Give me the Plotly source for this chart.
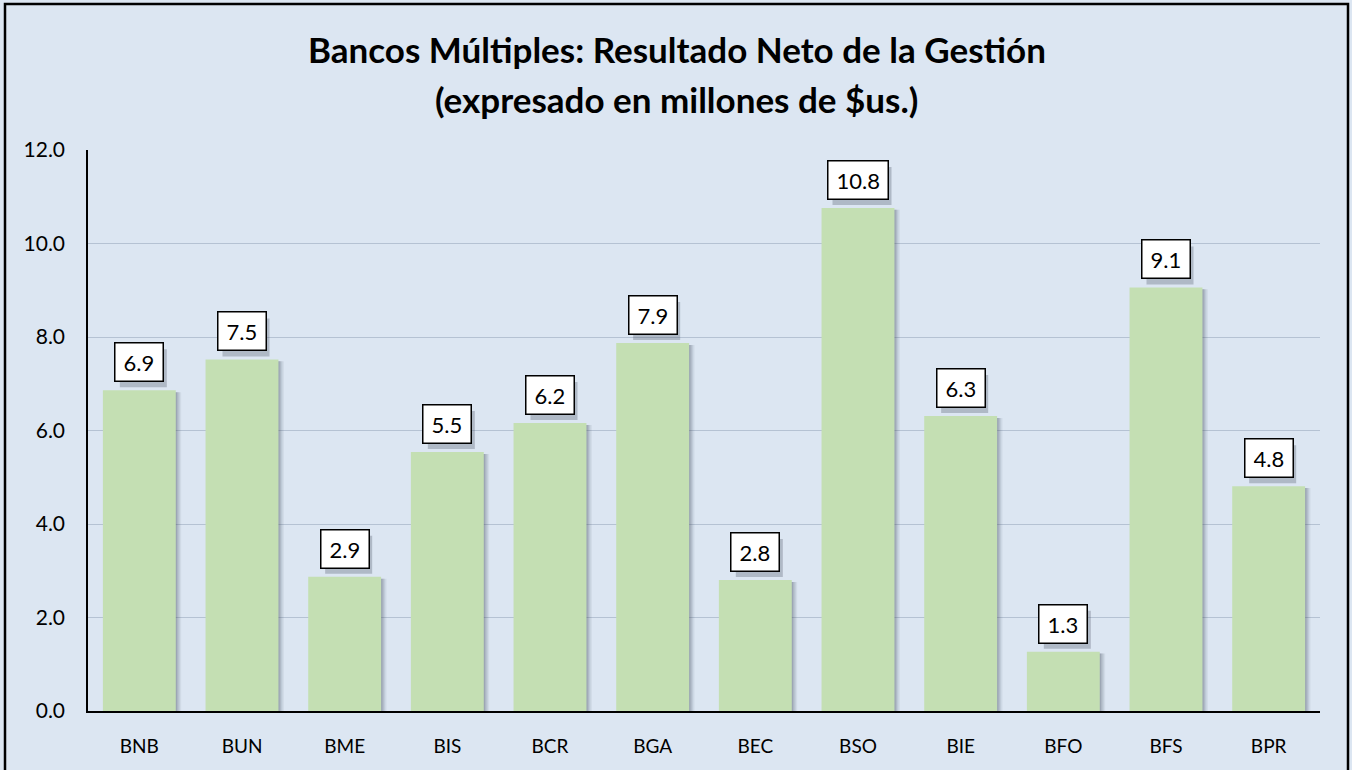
import plotly.graph_objects as go

bancos = ["BNB", "BUN", "BME", "BIS", "BCR", "BGA", "BEC", "BSO", "BIE", "BFO", "BFS", "BPR"]
resultado = [6.86, 7.52, 2.87, 5.54, 6.16, 7.87, 2.80, 10.76, 6.31, 1.27, 9.06, 4.81]
y_ticks = [0, 2, 4, 6, 8, 10, 12]

bg = "#dce6f2"
bar_color = "#c4dfb3"
bar_w = 0.71

fig = go.Figure()

# soft shadow on the right of each bar
for k, a in enumerate([0.16, 0.13, 0.10, 0.07]):
    fig.add_trace(go.Bar(
        x=bancos, y=resultado, base=-0.04,
        width=bar_w, offset=-bar_w / 2 + 0.013 * (k + 1),
        marker=dict(color=f"rgba(60,70,85,{a})", line=dict(width=0)),
        hoverinfo="skip", showlegend=False,
    ))

fig.add_trace(go.Bar(
    x=bancos, y=resultado,
    width=bar_w, offset=-bar_w / 2,
    marker=dict(color=bar_color, line=dict(width=0)),
    showlegend=False,
))

# value labels in white boxes with a small shadow
for b, v in zip(bancos, resultado):
    txt = f"{v:.1f}"
    half = 23.5 + 6 * (len(txt) - 3)
    fig.add_shape(
        type="rect", xref="x", yref="y",
        xsizemode="pixel", ysizemode="pixel", xanchor=b, yanchor=v,
        x0=-half + 4, x1=half + 4, y0=3, y1=41,
        line=dict(width=0), fillcolor="rgba(60,70,85,0.28)", layer="above",
    )
    fig.add_annotation(
        x=b, y=v, text=txt, showarrow=False,
        yanchor="bottom", yshift=8,
        font=dict(family="Lato", size=22, color="black"),
        bgcolor="white", bordercolor="black", borderwidth=1.5, borderpad=8, height=21,
    )

fig.add_annotation(
    text="<b>Bancos Múltiples: Resultado Neto de la Gestión</b>",
    xref="paper", yref="paper", x=0.478, y=(711 - 49) / 561,
    showarrow=False, xanchor="center", yanchor="middle",
    font=dict(family="Lato", size=35, color="black"),
)
fig.add_annotation(
    text="<b>(expresado en millones de $us.)</b>",
    xref="paper", yref="paper", x=0.478, y=(711 - 99) / 561,
    showarrow=False, xanchor="center", yanchor="middle",
    font=dict(family="Lato", size=35, color="black"),
)

# outer frame
fig.add_shape(
    type="rect", xref="paper", yref="paper",
    x0=(5 - 88) / 1232, x1=(1348 - 88) / 1232,
    y0=-0.12, y1=(711 - 4) / 561,
    line=dict(color="black", width=2.5), fillcolor="rgba(0,0,0,0)", layer="below",
)

fig.update_layout(
    width=1352, height=770,
    margin=dict(l=88, r=32, t=150, b=59),
    paper_bgcolor=bg, plot_bgcolor=bg,
    barmode="overlay",
    font=dict(family="Lato", size=21, color="black"),
)
fig.update_xaxes(
    showgrid=False, showline=True, linecolor="black", linewidth=2,
    ticks="outside", ticklen=17, tickcolor="rgba(0,0,0,0)",
    tickfont=dict(size=19),
)
fig.update_yaxes(
    range=[0, 12], tickvals=y_ticks, tickformat=".1f",
    showgrid=True, gridcolor="#b5c2d3", gridwidth=1,
    showline=True, linecolor="black", linewidth=1.5,
    ticks="outside", ticklen=17, tickcolor="rgba(0,0,0,0)",
    zeroline=False,
)

fig.write_html("out.html", config={"displayModeBar": False},
               post_script="document.body.style.margin='0';")
